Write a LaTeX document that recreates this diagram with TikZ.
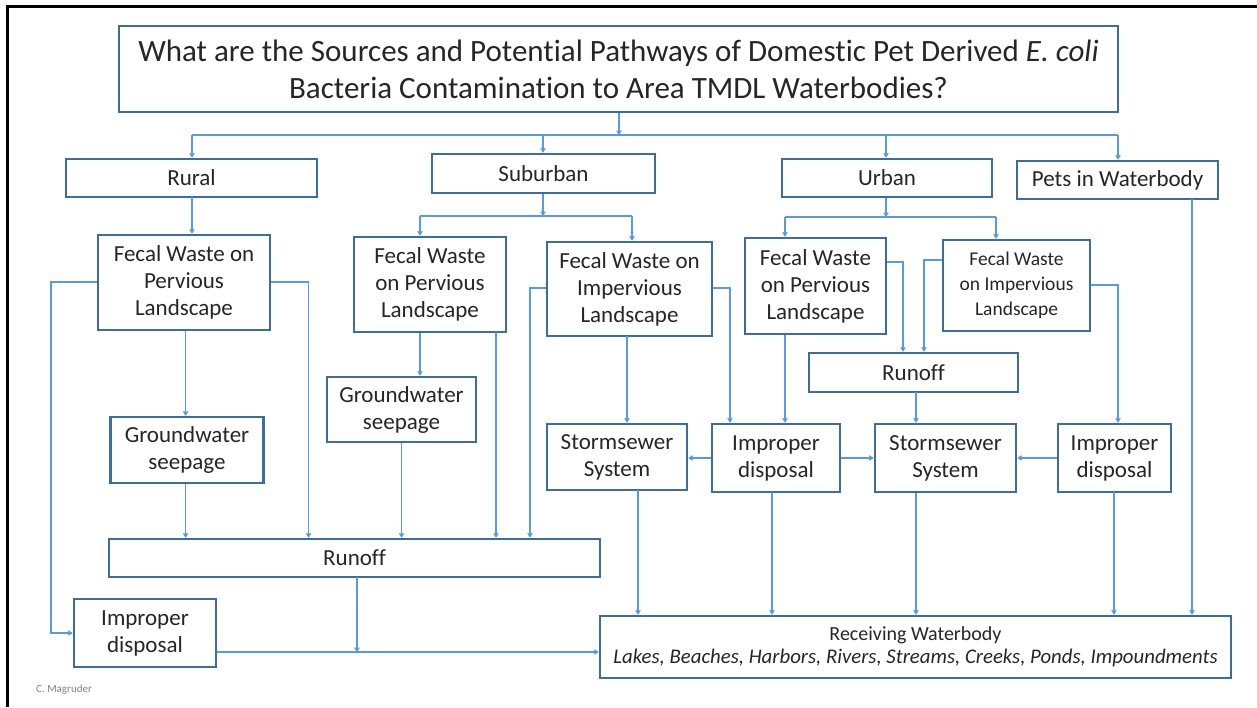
\documentclass[tikz,border=0pt]{standalone}
\usepackage{fontspec}
\setmainfont{Carlito}[Ligatures=NoCommon]
\usetikzlibrary{arrows.meta}
\definecolor{boxline}{HTML}{3E6E98}
\definecolor{wire}{HTML}{5B9BD5}
\definecolor{ink}{HTML}{262626}

\begin{document}
\begin{tikzpicture}[x=1pt,y=-1pt,
  box/.style={draw=boxline, line width=2.4pt, fill=white, inner sep=0pt,
    align=center, text=ink, font=\fontsize{23}{27}\selectfont},
  wire/.style={draw=wire, line width=1.4pt},
  flow/.style={wire, -{Triangle[width=5.5pt,length=4.5pt]}},
]
\useasboundingbox (0,0) rectangle (1257,707);

% page frame
\draw[black, line width=3pt] (7,707) -- (7,6) -- (1257,6);

% ---------- nodes ----------
\node[box, minimum width=999pt, minimum height=86pt, font=\fontsize{31}{37}\selectfont] (title) at (618.5,69)
  {What are the Sources and Potential Pathways of Domestic Pet Derived \textit{E. coli}\\Bacteria Contamination to Area TMDL Waterbodies?};

\node[box, minimum width=251pt, minimum height=38pt] (rural) at (191.5,178) {Rural};
\node[box, minimum width=223pt, minimum height=39pt] (suburban) at (543.5,173.5) {Suburban};
\node[box, minimum width=210pt, minimum height=38pt] (urban) at (887,178) {Urban};
\node[box, minimum width=201pt, minimum height=38pt] (pets) at (1117.5,180) {Pets in Waterbody};

% rural branch
\node[box, minimum width=172pt, minimum height=95pt] (rfw) at (184,282.5) {Fecal Waste on\\Pervious\\Landscape};
\node[box, minimum width=153pt, minimum height=66pt] (rgw) at (187,450) {Groundwater\\seepage};
\node[box, minimum width=491pt, minimum height=38pt] (runoffL) at (354.5,558) {Runoff};
\node[box, minimum width=142pt, minimum height=68pt] (impL) at (145,633) {Improper\\disposal};

% suburban branch
\node[box, minimum width=152pt, minimum height=95pt] (sfwp) at (430,284.5) {Fecal Waste\\on Pervious\\Landscape};
\node[box, minimum width=149pt, minimum height=65pt] (sgw) at (401.5,409.5) {Groundwater\\seepage};
\node[box, minimum width=165pt, minimum height=94pt] (sfwi) at (629.5,289) {Fecal Waste on\\Impervious\\Landscape};
\node[box, minimum width=140pt, minimum height=66pt] (ssew) at (617,457) {Stormsewer\\System};
\node[box, minimum width=128pt, minimum height=68pt] (imid) at (776,458) {Improper\\disposal};

% urban branch
\node[box, minimum width=141pt, minimum height=96pt] (ufwp) at (815.5,286) {Fecal Waste\\on Pervious\\Landscape};
\node[box, minimum width=147pt, minimum height=91pt, font=\fontsize{19.5}{25}\selectfont] (ufwi) at (1016.5,285.5) {Fecal Waste\\on Impervious\\Landscape};
\node[box, minimum width=209pt, minimum height=39pt] (urun) at (913.5,372.5) {Runoff};
\node[box, minimum width=141pt, minimum height=68pt] (usew) at (945.5,458) {Stormsewer\\System};
\node[box, minimum width=113pt, minimum height=68pt] (iright) at (1114.5,458) {Improper\\disposal};

% receiving water
\node[box, minimum width=631pt, minimum height=62pt, font=\fontsize{20}{23}\selectfont] (recv) at (915.5,647)
  {Receiving Waterbody\\{\fontsize{20.8}{23}\selectfont\itshape Lakes, Beaches, Harbors, Rivers, Streams, Creeks, Ponds, Impoundments}};

\node[anchor=west, inner sep=0pt, text=gray, font=\fontsize{11}{12}\selectfont] (credit) at (36,690) {C. Magruder};

% ---------- helper points ----------
\coordinate (topbus) at (619,135);
\coordinate (sbus) at (543,216);
\coordinate (sbL) at (420,216);
\coordinate (sbR) at (632,216);
\coordinate (ubus) at (886,217);
\coordinate (ubL) at (785,217);
\coordinate (ubR) at (996,217);
\coordinate (rL) at (51,282);
\coordinate (rR) at (308.6,282);
\coordinate (sdrop) at (496,332);
\coordinate (siL) at (530,288);
\coordinate (siR) at (730,288);
\coordinate (sid) at (627,336);
\coordinate (upR) at (903,262);
\coordinate (uiL) at (924,260);
\coordinate (uiR) at (1118,285);
\coordinate (udrop) at (916,392);
\coordinate (rdrop) at (357,577);
\coordinate (lowline) at (357,652);
\coordinate (sewL) at (638,490);
\coordinate (impM) at (772,492);
\coordinate (impR) at (1114,492);
\coordinate (petsd) at (1192,199);
\coordinate (rdown) at (192,197);

% ---------- connectors ----------
% top level split
\draw[flow] (title.south -| topbus) -- (topbus);
\draw[wire] (rdown |- topbus) -- (uiR |- topbus);
\draw[flow] (rdown |- topbus) -- (rdown |- rural.north);
\draw[flow] (sbus |- topbus) -- (sbus |- suburban.north);
\draw[flow] (ubus |- topbus) -- (ubus |- urban.north);
\draw[flow] (uiR |- topbus) -- (uiR |- pets.north);

% rural
\draw[flow] (rdown) -- (rdown |- rfw.north);
\draw[flow] (rfw.west |- rL) -- (rL) |- (impL.west);
\draw[flow] (rfw.east |- rR) -- (rR) -- (rR |- runoffL.north);
\draw[flow] (rfw.south -| 185.6,0) -- (185.6,0 |- rgw.north);
\draw[flow] (rgw.south -| 185.6,0) -- (185.6,0 |- runoffL.north);
\draw[flow] (rdrop) -- (lowline);
\draw[flow] (impL.east |- lowline) -- (recv.west |- lowline);

% suburban
\draw[flow] (suburban.south -| sbus) -- (sbus);
\draw[wire] (sbL) -- (sbR);
\draw[flow] (sbL) -- (sbL |- sfwp.north);
\draw[flow] (sbR) -- (sbR |- sfwi.north);
\draw[flow] (sbL |- sfwp.south) -- (sbL |- sgw.north);
\draw[flow] (sgw.south) -- (sgw.south |- runoffL.north);
\draw[flow] (sdrop) -- (sdrop |- runoffL.north);
\draw[flow] (sfwi.west |- siL) -- (siL) -- (siL |- runoffL.north);
\draw[flow] (sid) -- (sid |- ssew.north);
\draw[flow] (sfwi.east |- siR) -- (siR) -- (siR |- imid.north);

% urban
\draw[flow] (urban.south -| ubus) -- (ubus);
\draw[wire] (ubL) -- (ubR);
\draw[flow] (ubL) -- (ubL |- ufwp.north);
\draw[flow] (ubR) -- (ubR |- ufwi.north);
\draw[flow] (ubL |- ufwp.south) -- (ubL |- imid.north);
\draw[flow] (ufwp.east |- upR) -- (upR) -- (upR |- urun.north);
\draw[flow] (ufwi.west |- uiL) -- (uiL) -- (uiL |- urun.north);
\draw[flow] (ufwi.east |- uiR) -- (uiR) -- (uiR |- iright.north);
\draw[flow] (udrop) -- (udrop |- usew.north);

% side transfers into the storm sewers
\draw[flow] (imid.west) -- (ssew.east |- imid.west);
\draw[flow] (imid.east) -- (usew.west |- imid.east);
\draw[flow] (iright.west) -- (usew.east |- iright.west);

% into the receiving waterbody
\draw[flow] (sewL) -- (sewL |- recv.north);
\draw[flow] (impM) -- (impM |- recv.north);
\draw[flow] (udrop |- usew.south) -- (udrop |- recv.north);
\draw[flow] (impR) -- (impR |- recv.north);
\draw[flow] (petsd) -- (petsd |- recv.north);
\end{tikzpicture}
\end{document}
